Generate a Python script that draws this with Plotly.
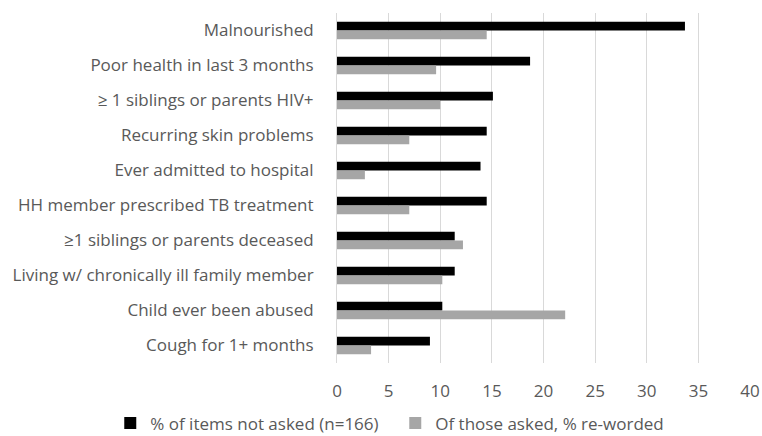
import plotly.graph_objects as go

categories = [
    "Malnourished",
    "Poor health in last 3 months",
    "≥ 1 siblings or parents HIV+",
    "Recurring skin problems",
    "Ever admitted to hospital",
    "HH member prescribed TB treatment",
    "≥1 siblings or parents deceased",
    "Living w/ chronically ill family member",
    "Child ever been abused",
    "Cough for 1+ months",
]
not_asked = [33.7, 18.7, 15.1, 14.5, 13.9, 14.5, 11.4, 11.4, 10.2, 9.0]
reworded = [14.5, 9.6, 10.0, 7.0, 2.7, 7.0, 12.2, 10.2, 22.1, 3.3]
series_names = ["% of items not asked (n=166)", "Of those asked, % re-worded"]
x_ticks = [0, 5, 10, 15, 20, 25, 30, 35, 40]

font_family = "'Open Sans', Lato, sans-serif"
text_color = "#595959"

fig = go.Figure()
fig.add_trace(go.Bar(y=categories, x=not_asked, orientation="h", name=series_names[0],
                     marker=dict(color="#000000", line=dict(width=0))))
fig.add_trace(go.Bar(y=categories, x=reworded, orientation="h", name=series_names[1],
                     marker=dict(color="#a6a6a6", line=dict(width=0))))

fig.update_layout(
    width=762, height=436,
    margin=dict(l=337, r=12, t=13, b=73, autoexpand=False),
    paper_bgcolor="white", plot_bgcolor="white",
    barmode="group", bargap=0.5, bargroupgap=0,
    font=dict(family=font_family, size=17, color=text_color),
    showlegend=True,
    legend=dict(orientation="h", xref="paper", yref="paper",
                x=-0.549, xanchor="left", y=-0.121, yanchor="top",
                font=dict(size=17, color=text_color), itemwidth=30,
                entrywidth=240, traceorder="normal"),
)
fig.update_xaxes(range=[0, 40], tickvals=x_ticks, showgrid=True, gridcolor="#d9d9d9",
                 gridwidth=1, zeroline=False, showline=False, ticks="",
                 ticklabelstandoff=16, fixedrange=True, automargin=False)
fig.update_yaxes(autorange="reversed", showgrid=False, zeroline=False,
                 showline=True, linecolor="#d9d9d9", ticks="",
                 ticklabelstandoff=19, automargin=False, fixedrange=True)

fig.write_html("out.html", config={"displayModeBar": False},
               post_script="document.body.style.margin='0';document.body.style.overflow='hidden';")
